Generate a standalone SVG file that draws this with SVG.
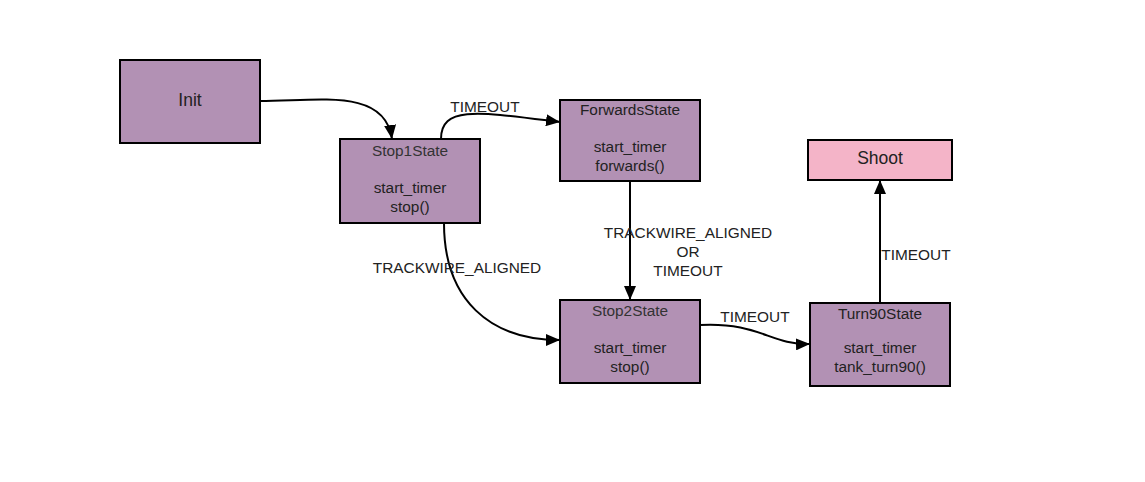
<svg xmlns="http://www.w3.org/2000/svg" width="1145" height="482" viewBox="0 0 1145 482">
<defs>
<marker id="arr" markerWidth="14" markerHeight="12" refX="14" refY="6" orient="auto" markerUnits="userSpaceOnUse" viewBox="0 0 14 12">
<path d="M0,0 L14,6 L0,12 z" fill="#000"/>
</marker>
<style>
.st{fill:#b291b4;stroke:#000;stroke-width:2}
.sh{fill:#f4b4c8;stroke:#000;stroke-width:2}
text{font-family:"Liberation Sans",Arial,sans-serif;font-size:15.4px;fill:#222;text-anchor:middle}
.big{font-size:17.5px}
.ttl{fill:#333}
.e{fill:none;stroke:#000;stroke-width:2;marker-end:url(#arr)}
</style>
</defs>
<rect width="1145" height="482" fill="#fff"/>
<g id="connectors">
<path class="e" d="M260,101 C320,101 385,88 392,139"/>
<path class="e" d="M441,139 C441,105 480,112 560,122"/>
<path class="e" d="M444,223 C444,300 490,340 560,340"/>
<path class="e" d="M630,181 L630,300"/>
<path class="e" d="M700,325 C760,322 770,345 810,344"/>
<path class="e" d="M880,303 L880,180"/>
<text x="485" y="112">TIMEOUT</text>
<text x="457" y="273">TRACKWIRE_ALIGNED</text>
<text x="688" y="238">TRACKWIRE_ALIGNED</text>
<text x="688" y="257">OR</text>
<text x="688" y="276">TIMEOUT</text>
<text x="755" y="322">TIMEOUT</text>
<text x="916" y="260">TIMEOUT</text>
</g>
<g id="init">
<rect class="st" x="120" y="60" width="140" height="83"/>
<text class="big" x="190" y="106">Init</text>
</g>
<g id="stop1">
<rect class="st" x="340" y="139" width="140" height="84"/>
<text class="ttl" x="410" y="156">Stop1State</text>
<text x="410" y="193">start_timer</text>
<text x="410" y="212">stop()</text>
</g>
<g id="forwards">
<rect class="st" x="560" y="100" width="140" height="81"/>
<text x="630" y="115">ForwardsState</text>
<text x="630" y="152">start_timer</text>
<text x="630" y="171">forwards()</text>
</g>
<g id="stop2">
<rect class="st" x="560" y="300" width="140" height="83"/>
<text class="ttl" x="630" y="316">Stop2State</text>
<text x="630" y="353">start_timer</text>
<text x="630" y="372">stop()</text>
</g>
<g id="turn90">
<rect class="st" x="810" y="303" width="140" height="83"/>
<text x="880" y="319">Turn90State</text>
<text x="880" y="353">start_timer</text>
<text x="880" y="372">tank_turn90()</text>
</g>
<g id="shoot">
<rect class="sh" x="808" y="140" width="144" height="40"/>
<text class="big" x="880" y="164">Shoot</text>
</g>
</svg>
